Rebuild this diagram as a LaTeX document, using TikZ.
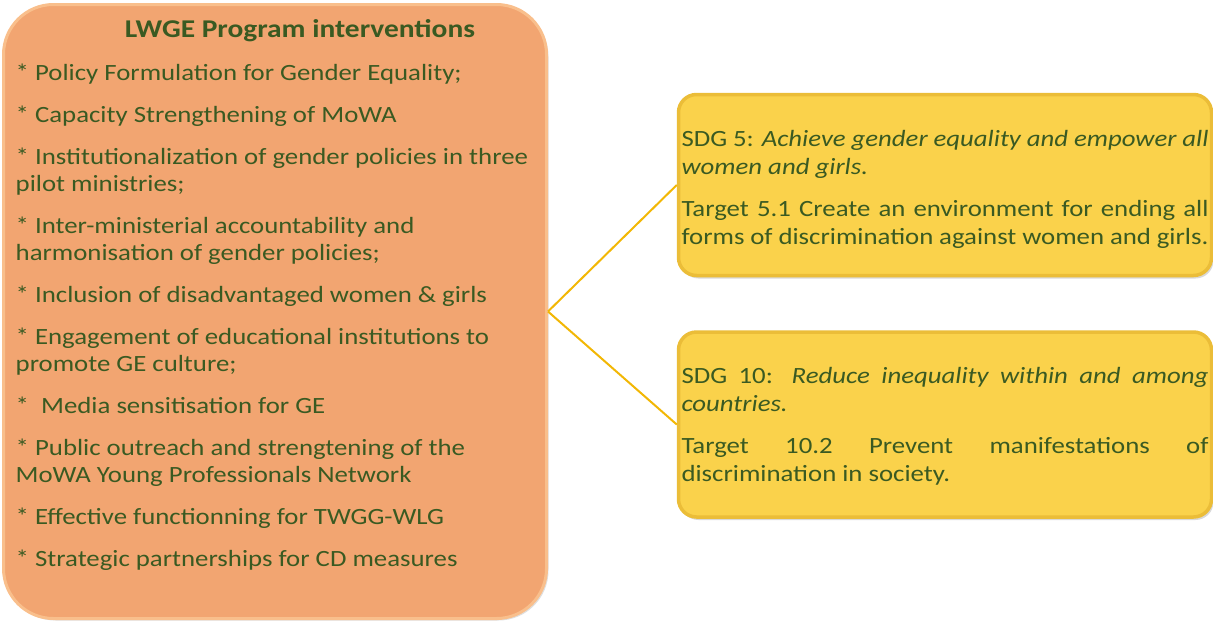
\documentclass[tikz,border=0pt]{standalone}
\usepackage{fontspec}
\setmainfont{Carlito}[FakeStretch=1.15]
\usetikzlibrary{positioning,shadows}

\definecolor{progfill}{HTML}{F2A571}
\definecolor{progrim}{HTML}{F9BF8C}
\definecolor{sdgfill}{HTML}{FAD24B}
\definecolor{sdgrim}{HTML}{EBBD38}
\definecolor{txtgreen}{HTML}{3A5A22}
\definecolor{linkgold}{HTML}{F2B705}

\setlength{\parindent}{0pt}
\tolerance=10000
\hyphenpenalty=10000

\begin{document}
\begin{tikzpicture}[x=1pt, y=-1pt]
\tikzstyle{progbox}=[draw=progrim, fill=progfill, line width=3pt, rounded corners=50pt,
  minimum width=543pt, minimum height=614pt,
  drop shadow={opacity=.25, shadow xshift=2pt, shadow yshift=-2pt}]
\tikzstyle{sdgbox}=[draw=sdgrim, fill=sdgfill, line width=3.5pt, rounded corners=18pt,
  text width=527pt, inner xsep=3pt, minimum height=181pt, align=justify,
  text=txtgreen, font=\fontsize{23.3}{28}\selectfont,
  drop shadow={opacity=.3, shadow xshift=2pt, shadow yshift=-3pt}]
\tikzstyle{items}=[inner sep=0pt, align=left, text=txtgreen,
  font=\fontsize{23.3}{27}\selectfont]
\tikzstyle{link}=[draw=linkgold, line width=2pt]

\useasboundingbox (0,0) rectangle (1213,622);

% program interventions
\node[progbox] (prog) at (275,311.5) {};
\node[items, font=\fontsize{25.6}{28}\selectfont\bfseries] (title) at (300,31) {LWGE Program interventions};
\node[items, anchor=north west] (list) at (15.5,63.5) {%
* Policy Formulation for Gender Equality;\\[15pt]
* Capacity Strengthening of MoWA\\[15pt]
* Institutionalization of gender policies in three\\pilot ministries;\\[15pt]
* Inter-ministerial accountability and\\harmonisation of gender policies;\\[15pt]
* Inclusion of disadvantaged women \& girls\\[15pt]
* Engagement of educational institutions to\\promote GE culture;\\[15pt]
*\ \ Media sensitisation for GE\\[15pt]
* Public outreach and strengtening of the\\MoWA Young Professionals Network\\[15pt]
* Effective functionning for TWGG-WLG\\[15pt]
* Strategic partnerships for CD measures};

% SDG targets (the strut pushes the text a little below centre)
\node[sdgbox] (sdga) at (945,185) {\rule{0pt}{25.5pt}%
SDG 5: \textit{Achieve gender equality and empower all\linebreak women and girls.}\\[14pt]
Target 5.1 Create an environment for ending all\linebreak forms of discrimination against women and girls.};
\node[sdgbox, minimum height=185pt, below=53pt of sdga] (sdgb) {\rule{0pt}{19.5pt}%
SDG 10: \textit{Reduce inequality within and among\linebreak countries.}\\[14pt]
Target 10.2 Prevent manifestations of\linebreak discrimination in society.};

\draw[link] (prog.east) -- (sdga.west);
\draw[link] (prog.east) -- (sdgb.west);
\end{tikzpicture}
\end{document}
